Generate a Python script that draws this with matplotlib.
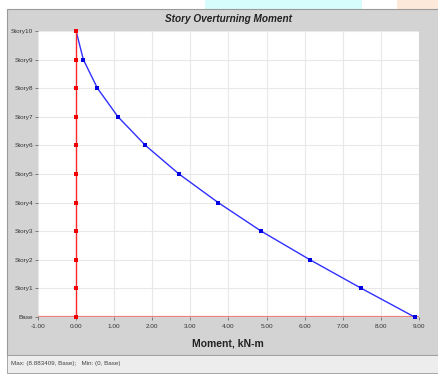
import matplotlib
matplotlib.use('Agg')
import matplotlib.pyplot as plt
from matplotlib.patches import Rectangle

stories = ['Base', 'Story1', 'Story2', 'Story3', 'Story4', 'Story5',
           'Story6', 'Story7', 'Story8', 'Story9', 'Story10']
moment = [8.883409, 7.49, 6.14, 4.86, 3.73, 2.70, 1.82, 1.10, 0.56, 0.19, 0.0]
zero_line = [0.0] * 11
xticks = [-1, 0, 1, 2, 3, 4, 5, 6, 7, 8, 9]

W, H = 439, 376
fig = plt.figure(figsize=(W / 100, H / 100), dpi=100)
fig.patch.set_facecolor('white')

def rect(x0, y0, x1, y1, fc, ec='none', lw=0, z=0):
    # pixel coords (top-left origin) -> figure fraction
    fig.patches.append(Rectangle((x0 / W, 1 - y1 / H), (x1 - x0) / W, (y1 - y0) / H,
                                 transform=fig.transFigure, fc=fc, ec=ec, lw=lw, zorder=z))

rect(205, 0, 362, 9, '#d6fcfc')
rect(397, 0, 439, 9, '#fde9d9')
rect(7, 9, 440, 355, '#d3d3d3', ec='#9a9a9a', lw=0.8)
rect(7, 355, 440, 373, '#ededed', ec='#9a9a9a', lw=0.6)

ax = fig.add_axes([38 / W, 1 - 317 / H, (419 - 38) / W, (317 - 31) / H])
ax.set_zorder(5)
ax.set_facecolor('white')
y = list(range(len(stories)))

ax.axhline(0, color='#f08080', lw=1.6, zorder=2)
ax.plot(moment, y, color='#3030ff', lw=1.0, marker='s', ms=3.0, mew=0,
        mfc='#0000e0', zorder=3, clip_on=False)
ax.plot(zero_line, y, color='#ff2828', lw=1.0, marker='s', ms=3.0, mew=0,
        mfc='#f00000', zorder=4, clip_on=False)

ax.set_xlim(-1, 9)
ax.set_ylim(0, 10)
ax.set_yticks(y)
ax.set_yticklabels(stories)
ax.set_xticks(xticks)
ax.set_xticklabels(['%.2f' % v for v in xticks])
ax.grid(True, color='#e8e8e8', lw=0.8)
ax.set_axisbelow(True)
for s in ax.spines.values():
    s.set_visible(False)

fn = ['Liberation Sans Narrow', 'Liberation Sans', 'DejaVu Sans']
ax.tick_params(axis='both', length=2, width=0.5, color='#555555', labelsize=4.6, pad=1.5)
for lbl in ax.get_xticklabels() + ax.get_yticklabels():
    lbl.set_family(fn)
    lbl.set_color('#333333')
ax.tick_params(axis='x', pad=3)

fig.text(229 / W, 1 - 19 / H, 'Story Overturning Moment', ha='center', va='center',
         fontsize=7.2, fontweight='bold', fontstyle='italic', family=fn, color='#222222')
fig.text(228 / W, 1 - 343 / H, 'Moment, kN-m', ha='center', va='center',
         fontsize=7.5, fontweight='bold', family=fn, color='#222222')
fig.text(11 / W, 1 - 364 / H, 'Max: (8.883409, Base);   Min: (0, Base)', ha='left', va='center',
         fontsize=4.5, family=fn, color='#444444')

fig.savefig('out.png', dpi=100)
